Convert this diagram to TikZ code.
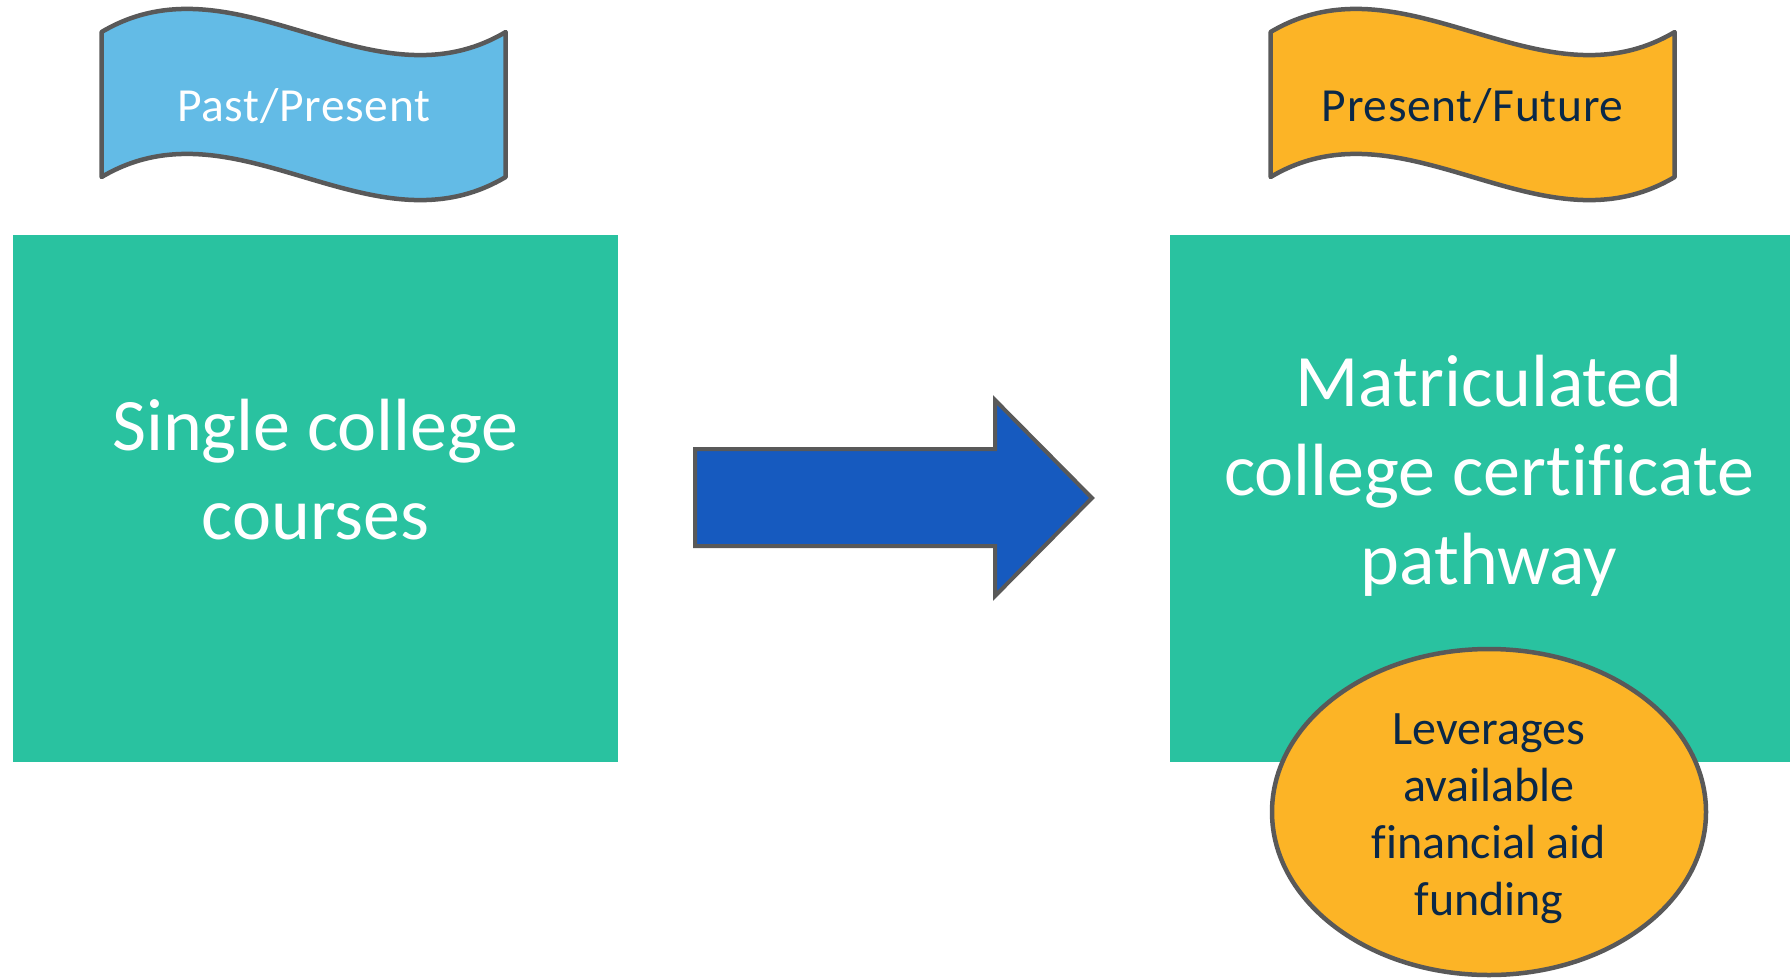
\documentclass[tikz,border=0pt]{standalone}
\usepackage{fontspec}
\setmainfont{Carlito}[Ligatures=NoCommon]
\usetikzlibrary{shapes.geometric}
\definecolor{boxgreen}{RGB}{41,194,160}
\definecolor{flagblue}{RGB}{99,187,230}
\definecolor{flagorange}{RGB}{252,180,38}
\definecolor{arrowblue}{RGB}{22,90,191}
\definecolor{edgegrey}{RGB}{89,89,89}
\definecolor{navytext}{RGB}{10,40,72}
\tikzset{
  greenbox/.style={fill=boxgreen, draw=none, inner sep=0pt},
  outlined/.style={draw=edgegrey, line width=4.5pt, line join=round},
  bigtext/.style={text=white, align=center, inner sep=0pt, font=\fontsize{74}{89}\selectfont},
  flagtext/.style={inner sep=0pt, anchor=base, font=\fontsize{47.5}{56}\selectfont\addfontfeatures{LetterSpace=1.5}},
  ovaltext/.style={text=navytext, align=center, inner sep=0pt, font=\fontsize{48}{57}\selectfont},
}
\begin{document}
\begin{tikzpicture}[x=1pt,y=-1pt]
\useasboundingbox (0,0) rectangle (1790,978);
% green boxes
\node[greenbox, minimum width=605pt, minimum height=527pt] (leftbox) at (315.5,498.5) {};
\node[greenbox, minimum width=620pt, minimum height=527pt] (rightbox) at (1480,498.5) {};
% flags
\draw[outlined, fill=flagblue] (101.6,32) .. controls (236.3,-48) and (371,112) .. (505.7,32)
  -- (505.7,177) .. controls (371,257) and (236.3,97) .. (101.6,177) -- cycle;
\draw[outlined, fill=flagorange] (1270.6,32) .. controls (1405.3,-48) and (1540,112) .. (1674.7,32)
  -- (1674.7,177) .. controls (1540,257) and (1405.3,97) .. (1270.6,177) -- cycle;
\node[flagtext, text=white] (pastlabel) at (303.6,121) {Past/Present};
\node[flagtext, text=navytext] (futurelabel) at (1472.6,121) {Present/Future};
% arrow
\draw[outlined, line width=4pt, fill=arrowblue, line join=miter] (695,449) -- (995,449) -- (995,400) -- (1092,498)
  -- (995,596) -- (995,546) -- (695,546) -- cycle;
% texts
\node[bigtext] (lefttext) at (315.5,470) {Single college\\courses};
\node[bigtext] (righttext) at (1489,476) {Matriculated\\college certificate\\pathway};
% oval
\node[ellipse, outlined, fill=flagorange, minimum width=434pt, minimum height=326pt, inner sep=0pt] (oval) at (1489,812) {};
\node[ovaltext] (ovaltext) at (1489,819) {Leverages\\available\\financial aid\\funding};
\end{tikzpicture}
\end{document}
